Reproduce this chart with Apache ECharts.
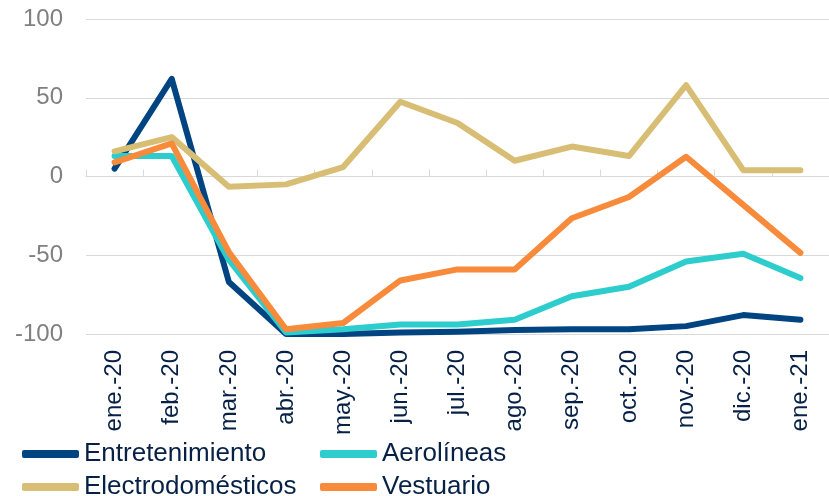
<!DOCTYPE html>
<html>

<head>
    <meta charset="utf-8" />
    <title>ECharts</title>
    <script src="https://cdn.jsdelivr.net/npm/echarts@6/dist/echarts.min.js"></script>
</head>

<body style="margin:0;">
    <div id="main" style="width: 829px;height:496px;"></div>
    <script type="text/javascript">
        // categorías (meses)
        let months = ['ene.-20', 'feb.-20', 'mar.-20', 'abr.-20', 'may.-20', 'jun.-20', 'jul.-20',
            'ago.-20', 'sep.-20', 'oct.-20', 'nov.-20', 'dic.-20', 'ene.-21'];

        let entretenimiento = [5, 62, -67, -100, -100, -99, -98.5, -97.5, -97, -97, -95, -88, -91];
        let aerolineas = [13, 13, -53, -99, -97, -94, -94, -91, -76, -70, -54, -49, -64.5];
        let electrodomesticos = [16, 25, -6.5, -5, 6, 47.5, 34, 10, 19, 13, 58, 4, 4];
        let vestuario = [9, 21, -48, -97, -93, -66, -59, -59, -26.5, -13, 12.5, -18, -48.5];

        let yTicks = { min: -100, max: 100, interval: 50 };

        let textDark = '#072146';
        let myChart = echarts.init(document.getElementById('main'));

        function makeLine(name, data, color) {
            return {
                name: name,
                type: 'line',
                data: data,
                symbol: 'none',
                lineStyle: { color: color, width: 6, cap: 'round', join: 'round' },
                itemStyle: { color: color }
            };
        }

        let legendText = { color: textDark, fontSize: 26, lineHeight: 26, fontFamily: 'Liberation Sans' };

        function makeLegend(left, names) {
            return {
                orient: 'vertical',
                left: left,
                top: 441,
                height: 90,
                padding: 0,
                itemWidth: 57,
                itemHeight: 8,
                itemGap: 7,
                icon: 'roundRect',
                textStyle: legendText,
                data: names
            };
        }

        let option = {
            animation: false,
            grid: { left: 86, right: -9, top: 19, bottom: 162 },
            legend: [
                makeLegend(22, ['Entretenimiento', 'Electrodomésticos']),
                makeLegend(320, ['Aerolíneas', 'Vestuario'])
            ],
            xAxis: [{
                type: 'category',
                data: months,
                position: 'bottom',
                axisLine: { show: false, onZero: false },
                axisTick: { show: false },
                axisLabel: {
                    rotate: 90,
                    margin: 16,
                    color: textDark,
                    fontSize: 24,
                    fontFamily: 'Liberation Sans'
                }
            }, {
                type: 'category',
                data: months,
                axisLine: { show: true, onZero: true, lineStyle: { color: '#D9D9D9', width: 1 } },
                axisTick: { show: true, length: 7, lineStyle: { color: '#D9D9D9' } },
                axisLabel: { show: false }
            }],
            yAxis: {
                type: 'value',
                min: yTicks.min,
                max: yTicks.max,
                interval: yTicks.interval,
                axisLine: { show: false },
                axisTick: { show: false },
                axisLabel: {
                    margin: 23,
                    color: '#808080',
                    fontSize: 24,
                    fontFamily: 'Liberation Sans'
                },
                splitLine: { lineStyle: { color: '#D9D9D9', width: 1 } }
            },
            series: [
                makeLine('Entretenimiento', entretenimiento, '#004481'),
                makeLine('Aerolíneas', aerolineas, '#2DCCCD'),
                makeLine('Electrodomésticos', electrodomesticos, '#D8BE75'),
                makeLine('Vestuario', vestuario, '#F78B3B')
            ]
        };

        myChart.setOption(option);
    </script>
</body>

</html>
